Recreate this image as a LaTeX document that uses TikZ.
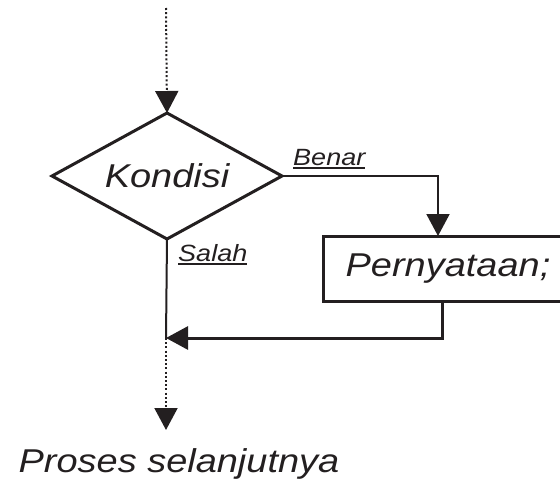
\documentclass[tikz,border=0pt]{standalone}
\usepackage{fontspec}
\setmainfont{Liberation Sans}
\usetikzlibrary{arrows.meta,shapes.geometric}
\definecolor{ink}{RGB}{35,31,32}
\newcommand\wide[1]{\scalebox{1.15}[1]{#1}}
\newcommand\ulin[1]{\vtop{\hbox{#1}\kern1.5pt\hrule height 1.8pt}}
\begin{document}
\begin{tikzpicture}[x=1pt,y=-1pt,
  big/.style={font=\fontsize{33}{33}\selectfont\itshape, text=ink, inner sep=0pt},
  lab/.style={font=\fontsize{23.5}{23.5}\selectfont\itshape, text=ink, inner sep=0pt},
  tipA/.style={-{Triangle[width=23pt,length=22pt]}},
  dots/.style={draw=ink, line width=2pt, dash pattern=on 2pt off 2.2pt},
  wire/.style={draw=ink, line width=2pt},
  heavy/.style={draw=ink, line width=3pt}]
\useasboundingbox (0,0) rectangle (560,479);
\coordinate (top) at (166,8);
\node[diamond, heavy, big, shape aspect=1.825, minimum width=230pt, minimum height=126pt, outer sep=0pt] (kond) at (167,176) {\wide{Kondisi}};
\node[rectangle, heavy, big, minimum width=250pt, minimum height=65pt, outer sep=0pt, anchor=west] (pern) at (323,268.5) {\wide{Pernyataan;}};
\coordinate (join) at (166,338);
\coordinate (endtip) at (166,430);
\node[big, anchor=base] (next) at (179,472) {\wide{Proses selanjutnya}};
\node[lab, anchor=base west] (benar) at (293,165) {\wide{\ulin{Benar}}};
\node[lab, anchor=base west] (salah) at (178,261) {\wide{\ulin{Salah}}};
\draw[dots, tipA] (top) -- (kond.north);
\draw[wire, tipA] (kond.east) -| ([xshift=115pt]pern.north west);
\draw[heavy, tipA] ([xshift=119pt]pern.south west) |- (join);
\draw[wire] (kond.south) -- (join);
\draw[dots, tipA] (join) -- (endtip);
\end{tikzpicture}
\end{document}
